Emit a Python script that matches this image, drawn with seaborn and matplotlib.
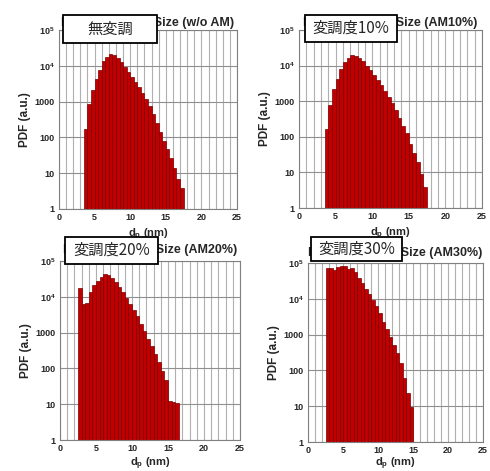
import numpy as np
import pandas as pd
import matplotlib
matplotlib.use("Agg")
import matplotlib.pyplot as plt
import seaborn as sns

# ---- data ----
bin_width = 0.5
start_p1 = 3.5
pdf_p1 = [170, 880, 2130, 4300, 7800, 13500, 17700, 20800, 20000, 17000, 12500, 9500,
          6800, 4900, 3500, 2500, 1700, 1150, 730, 440, 260, 145, 80, 46, 26, 14, 7, 3.9]
start_p2 = 3.5
pdf_p2 = [166, 800, 2150, 4200, 7800, 12600, 16600, 19500, 18600, 16200, 13200, 10000,
          7400, 5400, 4000, 2900, 1950, 1350, 870, 550, 340, 205, 130, 62, 35, 19, 9, 3.8]
start_p3 = 2.5
pdf_p3 = [17800, 6200, 6600, 14000, 21400, 27500, 36000, 42500, 40700, 34000, 26300, 19000,
          13800, 9300, 6200, 4300, 2950, 1700, 1100, 660, 410, 245, 155, 85, 48, 12.5, 11.5, 11]
start_p4 = 2.5
pdf_p4 = [73000, 73000, 65000, 75000, 85000, 85000, 69000, 73000, 56000, 39000, 28000, 18600,
          13200, 9100, 6100, 4000, 2300, 1400, 870, 510, 300, 160, 60, 23, 9.5]

titles = ["PDF of Particle Size (w/o AM)", "PDF of Particle Size (AM10%)",
          "PDF of Particle Size (AM20%)", "PDF of Particle Size (AM30%)"]
labels_jp = ["無変調", "変調度10%", "変調度20%", "変調度30%"]
y_ticks = [1, 10, 100, 1000, 1e4, 1e5]
y_ticklabels = ["1", "10", "100", "1000", "10$^4$", "10$^5$"]
x_ticks = [0, 5, 10, 15, 20, 25]

panels = [(start_p1, pdf_p1), (start_p2, pdf_p2), (start_p3, pdf_p3), (start_p4, pdf_p4)]

# ---- layout ----
sns.set_style("white")
plt.rcParams['font.family'] = ['Liberation Sans', 'DejaVu Sans']
plt.rcParams['mathtext.fontset'] = 'custom'
plt.rcParams['mathtext.rm'] = 'Liberation Sans:bold'
plt.rcParams['mathtext.bf'] = 'Liberation Sans:bold'

W, H = 490, 471
fig = plt.figure(figsize=(W / 100, H / 100), dpi=100)

def rect(l, r, t, b):
    return [l / W, 1 - b / H, (r - l) / W, (b - t) / H]

ax_rects = [rect(59, 237, 30, 209), rect(299, 482, 30, 208),
            rect(60, 240, 261, 440), rect(308, 483, 263, 442)]
box_pos = [(63, 15, 157, 43), (305, 15, 397, 42), (65, 237, 158, 264), (311, 237, 402, 261)]
title_pads = [3, 3, 6, 5]
xlabel_pads = [3, 3, 2, 0.5]

bar_color = "#c00000"
edge_color = "#7a0000"

for i, ((st, vals), r) in enumerate(zip(panels, ax_rects)):
    ax = fig.add_axes(r)
    n = len(vals)
    centers = st + bin_width * (np.arange(n) + 0.5)
    df = pd.DataFrame({"d": centers, "pdf": vals})
    sns.histplot(data=df, x="d", weights="pdf", binwidth=bin_width,
                 binrange=(st, st + n * bin_width), color=bar_color,
                 edgecolor=edge_color, linewidth=0.5, alpha=1.0, ax=ax, zorder=2)
    ax.set_yscale("log")
    ax.set_xlim(0, 25)
    ax.set_ylim(1, 1e5)
    ax.set_xticks(x_ticks)
    ax.set_xticks(np.arange(0, 25.01, 1), minor=True)
    ax.set_yticks(y_ticks)
    ax.set_yticklabels(y_ticklabels)
    ax.yaxis.set_minor_locator(matplotlib.ticker.NullLocator())
    ax.grid(True, which="minor", axis="x", color="#b0b0b0", linewidth=0.8, zorder=0)
    ax.grid(True, which="major", axis="x", color="#b0b0b0", linewidth=0.8, zorder=0)
    ax.grid(True, which="major", axis="y", color="#909090", linewidth=0.8, zorder=0)
    ax.set_axisbelow(True)
    ax.tick_params(axis="both", which="major", direction="in", length=3,
                   labelsize=6.5, pad=3, width=0.6)
    ax.tick_params(axis="x", which="minor", direction="in", length=2, width=0.5)
    for lab in ax.get_xticklabels() + ax.get_yticklabels():
        lab.set_fontweight("bold")
    for sp in ax.spines.values():
        sp.set_color("#808080")
        sp.set_linewidth(0.8)
    ax.set_ylabel("PDF (a.u.)", fontsize=8.5, fontweight="bold", labelpad=3)
    ax.set_xlabel("d$_\\mathbf{p}$ (nm)", fontsize=8, fontweight="bold",
                  labelpad=xlabel_pads[i])
    ax.set_title(titles[i], fontsize=9, fontweight="bold", pad=title_pads[i])

    # Japanese label box
    x0, y0, x1, y1 = box_pos[i]
    fig.patches.append(matplotlib.patches.Rectangle(
        (x0 / W, 1 - y1 / H), (x1 - x0) / W, (y1 - y0) / H,
        transform=fig.transFigure, facecolor="white", edgecolor="black",
        linewidth=1.3, zorder=10))
    fig.text((x0 + x1) / 2 / W, 1 - (y0 + y1) / 2 / H, labels_jp[i],
             fontsize=11, ha="center", va="center", zorder=11,
             family=["Noto Sans CJK JP", "DejaVu Sans"])

fig.savefig("out.png", dpi=100)
